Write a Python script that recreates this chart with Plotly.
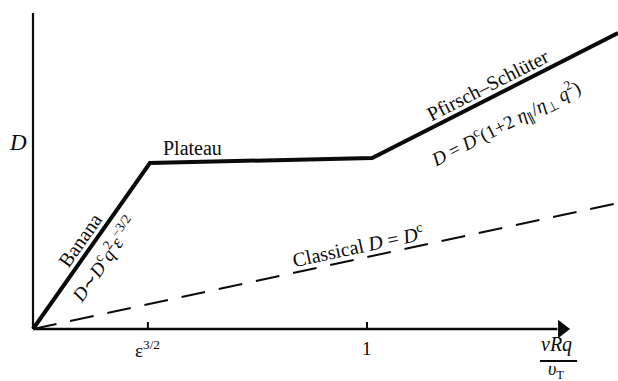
import plotly.graph_objects as go

# Regime curve (x in units of vRq/v_T, y in arbitrary D units)
regime_x = [0.0, 0.35, 1.0155, 1.7515]
regime_y = [0.0, 1.66, 1.71, 2.96]

# Classical line
classical_x = [0.0, 1.7515]
classical_y = [0.0, 1.26]

# Axes
xaxis_x = [0.0, 1.57]
xaxis_y = [0.0, 0.0]
yaxis_x = [0.0, 0.0]
yaxis_y = [0.0, 3.16]
arrow_x = [1.584]
arrow_y = [0.0]

# Tick marks
tick_pos = [0.344, 1.0]
tick_labels = ["ε<sup>3/2</sup>", "1"]

FONT = "Liberation Serif"
INK = "#0a0a0a"

fig = go.Figure()
fig.add_trace(go.Scatter(x=regime_x, y=regime_y, mode="lines",
                         line=dict(color=INK, width=4), hoverinfo="skip"))
fig.add_trace(go.Scatter(x=classical_x, y=classical_y, mode="lines",
                         line=dict(color=INK, width=2, dash="24px,14px"), hoverinfo="skip"))
fig.add_trace(go.Scatter(x=xaxis_x, y=xaxis_y, mode="lines",
                         line=dict(color=INK, width=2.5), hoverinfo="skip"))
fig.add_trace(go.Scatter(x=yaxis_x, y=yaxis_y, mode="lines",
                         line=dict(color=INK, width=2.2), hoverinfo="skip"))
fig.add_trace(go.Scatter(x=arrow_x, y=arrow_y, mode="markers",
                         marker=dict(symbol="triangle-right", size=16, color=INK), hoverinfo="skip"))
for tp in tick_pos:
    fig.add_trace(go.Scatter(x=[tp, tp], y=[0.0, 0.07], mode="lines",
                             line=dict(color=INK, width=2), hoverinfo="skip"))

def ann(x, y, text, angle=0, size=20, italic=False):
    if italic:
        text = "<i>" + text + "</i>"
    fig.add_annotation(x=x, y=y, xref="x", yref="y", text=text, showarrow=False,
                       textangle=angle, font=dict(family=FONT, size=size, color=INK))

# Tick labels
ann(tick_pos[0], -0.20, tick_labels[0], size=19)
ann(tick_pos[1], -0.19, tick_labels[1], size=19)

# Axis labels
ann(-0.045, 1.87, "D", size=23, italic=True)
ann(1.566, -0.15, "<i>vRq</i>", size=20)
fig.add_trace(go.Scatter(x=[1.518, 1.629], y=[-0.32, -0.32], mode="lines",
                         line=dict(color=INK, width=2), hoverinfo="skip"))
ann(1.566, -0.415, "<i>υ</i><sub>T</sub>", size=18)

# Regime labels
ann(0.141, 0.89, "Banana", angle=-55, size=20)
ann(0.210, 0.70, "<i>D</i>∼<i>D</i><sup>c</sup><i>q</i><sup>2</sup><i>ε</i><sup>−3/2</sup>", angle=-55, size=19)
ann(0.479, 1.81, "Plateau", size=20)
ann(1.362, 2.44, "Pfirsch–Schlüter", angle=-27, size=20)
ann(1.416, 2.06, "<i>D</i> = <i>D</i><sup>c</sup>(1+2 <i>η</i><sub>∥</sub>/<i>η</i><sub>⊥</sub> <i>q</i><sup>2</sup>)", angle=-27, size=19)
ann(0.973, 0.84, "Classical <i>D</i> = <i>D</i><sup>c</sup>", angle=-12, size=20)

fig.update_layout(
    width=618, height=381,
    margin=dict(l=0, r=0, t=0, b=0),
    paper_bgcolor="white", plot_bgcolor="white",
    showlegend=False,
    xaxis=dict(range=[-0.0988, 1.7515], visible=False, fixedrange=True),
    yaxis=dict(range=[-0.52, 3.29], visible=False, fixedrange=True),
)
fig.write_html("out.html", config={"displayModeBar": False},
               post_script="document.body.style.margin='0';document.body.style.overflow='hidden';")
